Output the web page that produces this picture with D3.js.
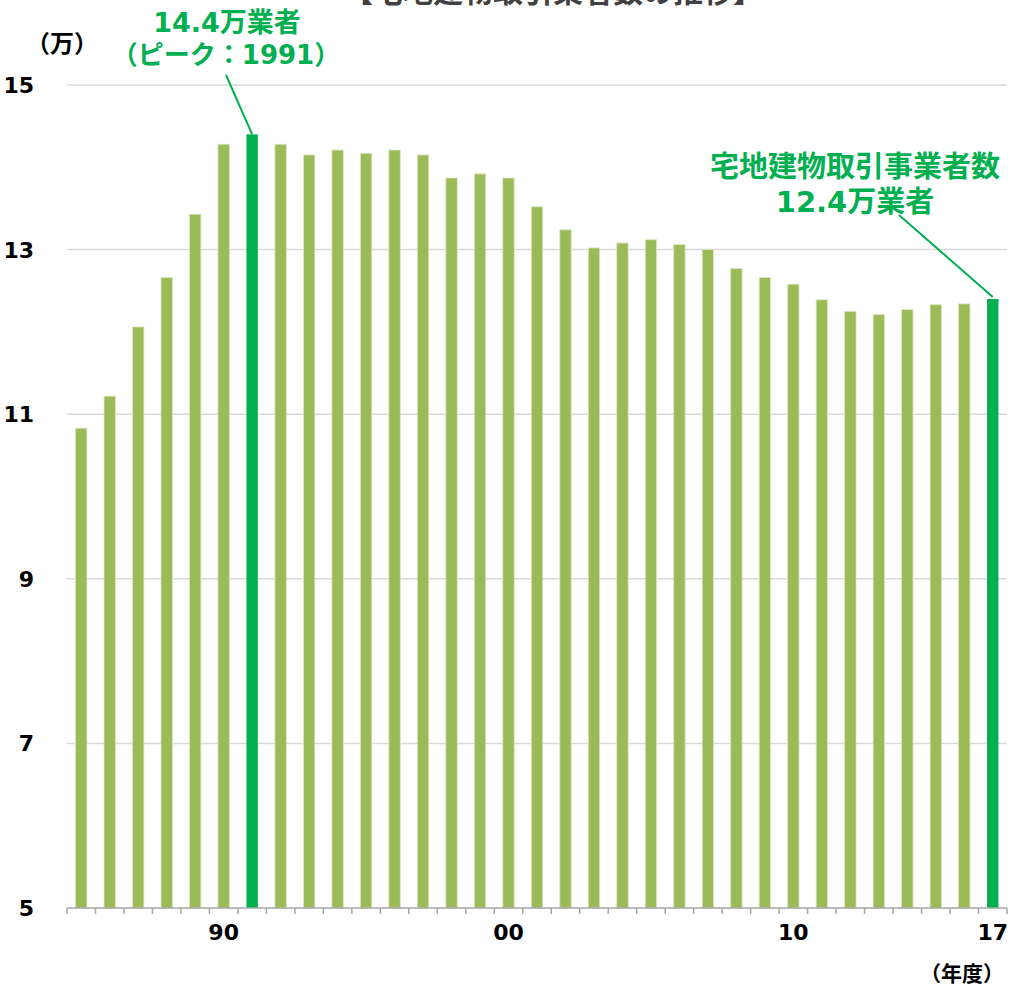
<!DOCTYPE html>
<html><head><meta charset="utf-8">
<script src="https://cdn.jsdelivr.net/npm/d3@7"></script>
<style>
html,body{margin:0;padding:0;background:#fff;}
svg{display:block;font-family:"DejaVu Sans","Noto Sans CJK JP",sans-serif;font-weight:bold;}
</style></head>
<body>
<svg id="chart" width="1011" height="987"></svg>
<script>
const years = d3.range(1985, 2018);
const values = [10.83, 11.22, 12.06, 12.66, 13.43, 14.28, 14.40, 14.28, 14.15, 14.21,
                14.17, 14.21, 14.15, 13.87, 13.92, 13.87, 13.52, 13.24, 13.02, 13.08,
                13.12, 13.06, 13.00, 12.77, 12.66, 12.58, 12.39, 12.25, 12.21, 12.27,
                12.33, 12.34, 12.40];
const highlightYears = [1991, 2017];
const yTicks = [5, 7, 9, 11, 13, 15];
const xLabels = {1990: "90", 2000: "00", 2010: "10", 2017: "17"};
const title = "【宅地建物取引業者数の推移】";
const peakLines = ["14.4万業者", "（ピーク：1991）"];
const latestLines = ["宅地建物取引事業者数", "12.4万業者"];

const svg = d3.select("#chart");
const mLeft = 67, mRight = 1007, mTop = 85, mBottom = 908;
const x = d3.scaleBand().domain(years).range([mLeft, mRight]).paddingInner(0.6).paddingOuter(0.3);
const xb = d3.scaleBand().domain(years).range([mLeft, mRight]);
const y = d3.scaleLinear().domain([5, 15]).range([mBottom, mTop]);

// title (cut off at top, as in the original)
svg.append("text").attr("x", 553).attr("y", 2).attr("text-anchor", "middle")
  .attr("font-size", 30).attr("fill", "#404040").text(title);

// gridlines
svg.append("g").selectAll("line").data(yTicks.filter(d => d > 5)).join("line")
  .attr("x1", mLeft).attr("x2", mRight).attr("y1", d => y(d)).attr("y2", d => y(d))
  .attr("stroke", "#d9d9d9").attr("stroke-width", 1.5);

// y labels
svg.append("g").selectAll("text").data(yTicks).join("text")
  .attr("x", 34).attr("y", d => y(d)).attr("dy", "0.36em").attr("text-anchor", "end")
  .attr("font-size", 22).attr("fill", "#000").text(d => d);

svg.append("text").attr("x", 62).attr("y", 43).attr("dy", "0.36em").attr("text-anchor", "middle")
  .attr("font-size", 24).attr("fill", "#000").text("（万）");

// bars
svg.append("g").selectAll("rect").data(years).join("rect")
  .attr("x", d => x(d)).attr("width", x.bandwidth())
  .attr("y", (d, i) => y(values[i])).attr("height", (d, i) => mBottom - y(values[i]))
  .attr("fill", d => highlightYears.includes(d) ? "#00b050" : "#9bbb59")
  .attr("stroke", d => highlightYears.includes(d) ? "none" : "#dbe6c4").attr("stroke-width", 0.8);

// x axis
const xa = svg.append("g");
xa.append("line").attr("x1", mLeft).attr("x2", mRight).attr("y1", mBottom).attr("y2", mBottom)
  .attr("stroke", "#a6a6a6").attr("stroke-width", 1.5);
const tickPos = years.map(d => xb(d)).concat([mRight]);
xa.selectAll("line.t").data(tickPos).join("line").attr("class", "t")
  .attr("x1", d => d).attr("x2", d => d).attr("y1", mBottom).attr("y2", mBottom + 6)
  .attr("stroke", "#a6a6a6").attr("stroke-width", 1.5);
xa.selectAll("text").data(Object.keys(xLabels).map(Number)).join("text")
  .attr("x", d => x(d) + x.bandwidth() / 2).attr("y", 932).attr("dy", "0.36em")
  .attr("text-anchor", "middle").attr("font-size", 22).attr("fill", "#000")
  .text(d => xLabels[d]);
svg.append("text").attr("x", 1004).attr("y", 973).attr("dy", "0.36em").attr("text-anchor", "end")
  .attr("font-size", 21).attr("fill", "#000").text("（年度）");

// annotations
const green = "#00b050";
const iPeak = years.indexOf(1991), iLast = years.indexOf(2017);
svg.append("text").attr("x", 227).attr("y", 22).attr("dy", "0.36em").attr("text-anchor", "middle")
  .attr("font-size", 27).attr("fill", green).text(peakLines[0]);
svg.append("text").attr("x", 226).attr("y", 55).attr("dy", "0.36em").attr("text-anchor", "middle")
  .attr("font-size", 26).attr("fill", green).text(peakLines[1]);
svg.append("line").attr("x1", 226).attr("y1", 75)
  .attr("x2", x(1991) + x.bandwidth() / 2).attr("y2", y(values[iPeak]))
  .attr("stroke", green).attr("stroke-width", 2);

svg.append("text").attr("x", 855).attr("y", 167).attr("dy", "0.36em").attr("text-anchor", "middle")
  .attr("font-size", 29).attr("fill", green).text(latestLines[0]);
svg.append("text").attr("x", 855).attr("y", 202).attr("dy", "0.36em").attr("text-anchor", "middle")
  .attr("font-size", 29).attr("fill", green).text(latestLines[1]);
svg.append("line").attr("x1", 899).attr("y1", 215)
  .attr("x2", x(2017) + x.bandwidth() / 2).attr("y2", y(values[iLast]) - 2)
  .attr("stroke", green).attr("stroke-width", 2);
</script>
</body></html>
